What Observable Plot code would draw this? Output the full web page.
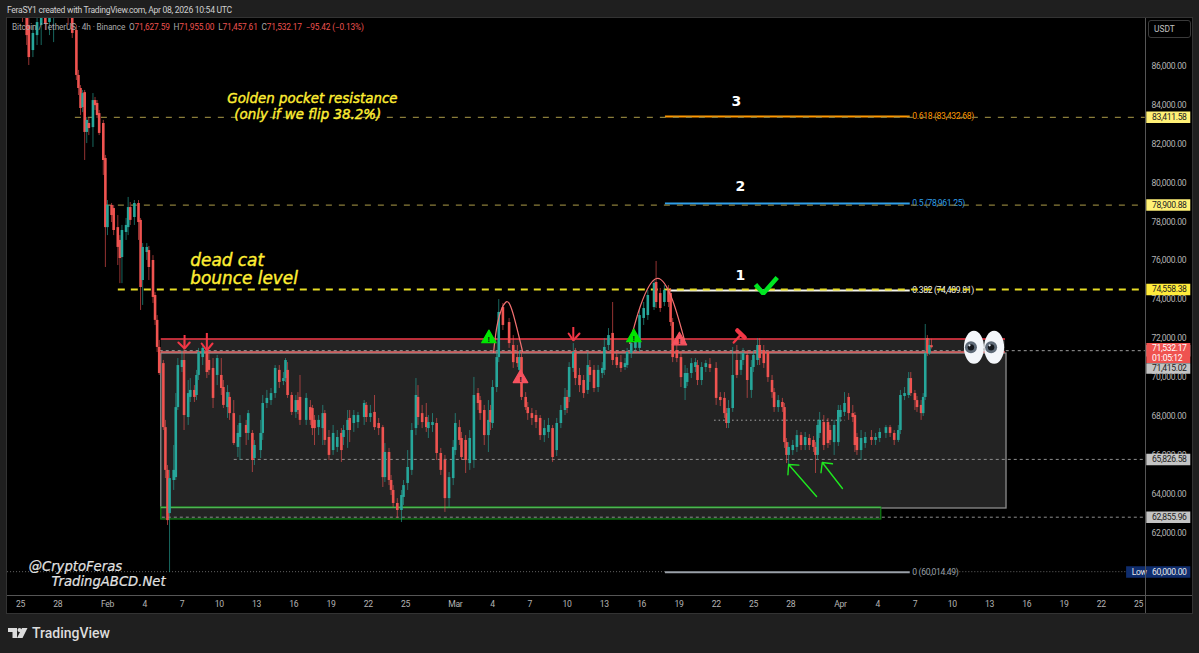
<!DOCTYPE html>
<html><head><meta charset="utf-8">
<script src="https://cdn.jsdelivr.net/npm/d3@7"></script>
<script src="https://cdn.jsdelivr.net/npm/@observablehq/plot@0.6"></script>
<style>
html,body{margin:0;padding:0;background:#1f1f1f;width:1199px;height:653px;overflow:hidden}
#pane{position:absolute;left:7px;top:18px;width:1185px;height:595px;background:#000;box-shadow:0 0 0 1px #333}
#vsep{position:absolute;left:1145px;top:18px;width:1px;height:595px;background:#555}
#hsep{position:absolute;left:7px;top:595px;width:1185px;height:1px;background:#555}
#chart{position:absolute;left:0;top:0}
#chart [font-size="8.6"],#chart [font-size="8.6"] text{letter-spacing:-.35px}
.t{position:absolute;white-space:nowrap;font-family:Roboto,sans-serif}
#head{left:7px;top:4px;font-size:8.6px;letter-spacing:-.3px;color:#d0d0d0;line-height:12px}
#leg{left:12px;top:22px;font-size:8.3px;letter-spacing:-.15px;color:#a8a8a8;line-height:11px}
#leg b{font-weight:400;color:#ef5350}
#usdt{left:1148px;top:20px;width:41px;height:16px;border:1px solid #3a3a3a;border-radius:3px;font-size:8.4px;color:#c0c0c0;line-height:16px;text-indent:5px}
#brand{left:32px;top:624px;font-size:14px;font-weight:500;color:#dcdcdc;line-height:18px}
#logo{position:absolute;left:8px;top:628px}
</style></head><body>
<div id="pane"></div>
<div id="chartwrap"></div>
<div id="vsep"></div><div id="hsep"></div>
<div class="t" id="head">FeraSY1 created with TradingView.com, Apr 08, 2026 10:54 UTC</div>
<div class="t" id="leg">Bitcoin / TetherUS · 4h · Binance &nbsp;O<b>71,627.59</b> &nbsp;H<b>71,955.00</b> &nbsp;L<b>71,457.61</b> &nbsp;C<b>71,532.17 &nbsp;−95.42 (−0.13%)</b></div>
<div class="t" id="usdt">USDT</div>
<svg id="logo" width="20" height="11" viewBox="0 0 20 11"><path fill="#dcdcdc" d="M0 0H9V10H4.5V4H0ZM14 0H19.5L14.5 10H9ZM11.5 0a2 2 0 1 1 0 4a2 2 0 1 1 0-4Z"/></svg>
<div class="t" id="brand">TradingView</div>
<script>
// Candles: hours since 25 Jan 00:00 UTC; prices in thousands of USDT.
const times=[4,12,16,24,32,40,48,56,64,72,80,92,100,108,112,116,120,124,128,132,140,144,148,152,160,164,168,176,180,188,192,196,204,208,212,220,228,232,236,244,248,256,260,264,268,276,280,284,288,296,300,304,312,316,324,328,336,340,344,352,360,364,372,380,388,392,400,404,412,420,424,436,440,448,452,464,468,476,484,492,500,508,512,516,524,532,536,540,552,560,564,568,576,584,588,596,604,612,620,624,632,636,644,652,664,668,676,684,692,700,704,712,716,720,728,736,740,748,756,764,768,776,784,788,796,804,812,820,828,836,840,848,852,860,868,876,884,888,896,904,908,912,920,924,932,944,952,960,964,968,976,980,988,996,1004,1012,1020,1028,1036,1044,1052,1056,1060,1068,1072,1080,1088,1096,1100,1108,1116,1124,1128,1136,1144,1152,1160,1168,1172,1180,1188,1196,1204,1212,1224,1228,1236,1244,1252,1256,1260,1268,1276,1284,1288,1296,1304,1308,1316,1324,1332,1344,1352,1360,1364,1368,1376,1384,1392,1396,1404,1412,1416,1424,1428,1436,1444,1452,1456,1464,1472,1476,1480,1484,1492,1500,1508,1516,1524,1532,1536,1540,1544,1552,1560,1564,1572,1580,1584,1592,1600,1608,1612,1616,1624,1632,1644,1652,1660,1672,1680,1688,1696,1700,1708,1716,1720,1728,1732,1740,1744,1748,1752,1756,1760];
const opens=[89.37,88.60,88.09,86.80,87.57,88.09,88.76,88.24,88.45,89.22,88.96,89.37,88.86,87.83,85.52,84.85,83.87,84.64,82.59,83.05,82.84,84.23,84.08,83.56,83.05,81.25,77.70,78.84,78.68,77.70,77.04,76.16,77.45,77.70,78.73,78.22,78.94,78.07,74.98,76.42,76.52,76.01,74.21,72.93,71.54,70.71,67.42,65.22,63.00,64.70,64.85,68.45,70.51,70.87,67.94,68.97,69.33,69.07,70.10,71.02,71.38,70.87,70.46,70.10,70.10,69.48,68.45,68.97,68.14,66.40,66.91,67.53,67.12,67.12,65.83,66.24,67.12,68.66,68.81,69.17,70.36,69.79,69.94,70.36,69.07,68.20,68.81,68.97,67.79,68.45,68.40,67.79,67.42,67.37,68.14,66.91,66.24,66.40,67.12,66.91,67.27,67.89,67.63,67.68,67.94,68.56,67.94,68.20,67.63,67.42,64.85,66.14,64.70,64.19,63.52,63.16,63.83,64.55,65.22,67.37,68.97,68.14,67.94,67.37,67.53,67.63,66.09,65.73,63.77,64.80,66.24,67.42,66.86,66.76,65.57,65.73,69.17,68.81,68.30,67.01,68.30,67.63,69.48,71.02,73.59,72.82,71.64,71.02,70.36,71.02,68.97,68.45,68.14,68.04,67.89,67.01,67.17,67.37,66.24,67.63,68.30,68.97,68.97,70.46,71.23,70.10,69.84,69.33,70.51,70.36,69.48,70.20,70.36,71.64,72.26,71.02,70.76,70.51,70.61,71.23,71.49,71.49,73.03,73.18,73.59,74.88,74.31,73.85,74.47,74.31,72.82,71.38,71.02,69.43,69.74,70.20,70.51,70.61,69.84,70.51,70.66,70.46,68.97,68.92,68.14,67.63,68.40,70.87,70.36,70.87,71.13,69.33,70.51,70.87,71.64,71.38,71.28,69.84,69.22,68.45,68.71,68.45,66.65,65.99,66.24,66.40,67.01,66.50,66.86,66.76,66.40,65.99,67.12,67.68,67.68,67.27,66.65,66.65,67.94,68.20,68.97,68.14,68.04,66.91,66.24,66.60,66.91,66.76,66.86,67.12,67.42,67.12,66.76,67.27,69.02,69.07,69.94,69.17,68.81,68.56,68.14,68.97,72.00,71.23,71.63];
const closes=[88.60,87.57,86.44,87.68,88.24,88.60,88.14,88.96,89.12,88.76,89.37,88.65,87.68,85.52,84.85,83.82,84.59,82.59,83.21,82.79,84.23,83.97,83.46,82.54,81.15,77.70,78.84,78.32,77.55,76.68,76.11,77.55,77.81,78.73,78.07,78.94,77.96,74.62,76.68,76.68,75.65,74.11,72.93,71.54,70.20,67.42,65.22,62.64,64.80,65.22,68.45,70.61,70.87,68.04,69.17,69.33,68.97,70.10,71.28,71.49,70.25,70.36,68.92,70.97,69.43,68.56,69.22,68.14,66.60,67.12,67.63,67.12,68.14,65.73,66.50,67.12,68.66,68.92,69.17,70.46,69.74,69.94,70.87,69.07,68.20,68.81,68.30,67.79,68.92,67.79,67.37,67.37,67.79,68.14,66.76,65.99,67.12,66.91,66.24,67.27,67.79,67.27,68.04,68.04,68.66,67.94,68.14,67.42,67.37,64.85,66.14,64.70,64.19,63.52,63.16,63.93,64.44,65.37,67.27,69.07,67.94,67.68,67.42,67.68,67.68,66.09,65.22,63.77,64.85,66.40,67.63,66.76,65.88,65.73,66.86,69.07,68.66,68.14,67.01,67.79,67.68,69.48,71.02,73.34,72.67,71.74,70.76,70.71,71.02,68.97,68.45,68.14,67.89,67.68,67.01,67.37,67.53,65.88,67.63,68.30,68.97,68.40,70.51,71.28,69.94,69.58,69.17,70.61,70.10,69.43,70.36,70.46,71.54,72.15,70.87,70.61,70.46,70.71,71.28,71.74,71.90,73.18,73.54,74.21,74.83,73.85,73.54,74.47,73.85,72.82,71.02,70.97,69.99,70.20,70.20,70.71,70.76,69.84,70.51,70.71,70.46,68.92,68.81,68.14,67.63,68.40,70.10,70.10,70.87,71.23,69.84,70.51,71.13,71.64,70.97,70.71,69.99,69.22,68.45,68.81,68.45,66.65,65.99,66.40,66.50,67.01,66.50,66.91,66.50,66.40,65.99,67.53,67.79,66.50,66.60,66.76,67.53,68.30,68.30,68.66,68.14,67.94,66.50,66.24,66.86,66.91,66.76,66.91,67.17,67.42,67.12,66.76,67.27,69.07,69.17,69.94,69.17,68.81,68.45,68.14,68.97,71.23,71.23,71.64,71.53];
const highs=[89.63,89.12,88.45,88.09,88.60,88.96,89.12,89.27,89.37,89.37,89.63,89.53,89.12,88.09,85.78,85.00,84.75,84.75,83.36,83.31,84.59,84.39,84.23,83.72,83.21,81.41,79.09,78.94,78.84,78.32,77.29,77.81,78.17,79.25,78.99,79.09,79.09,78.17,76.88,76.88,76.73,76.26,74.36,73.18,71.90,70.87,67.79,65.47,65.22,66.50,69.17,70.97,71.38,71.90,69.84,69.94,69.58,70.36,71.49,71.64,72.26,71.28,70.97,71.13,70.97,69.84,69.58,69.22,68.81,67.53,68.04,67.79,68.30,67.27,66.76,67.79,69.07,69.33,69.43,70.61,70.61,70.25,70.97,70.76,69.22,69.07,69.22,70.10,69.17,68.81,68.56,68.04,68.04,68.56,68.30,67.27,67.53,67.27,67.37,67.53,68.30,68.30,68.30,68.20,68.81,68.71,68.56,69.07,67.89,67.53,66.60,66.35,64.96,64.44,63.77,64.19,64.70,66.24,67.63,69.94,69.58,68.56,68.66,68.04,68.14,67.89,66.35,65.99,65.11,66.76,68.14,67.79,67.17,67.01,67.27,70.00,69.43,69.02,68.56,68.81,68.56,69.84,71.38,74.00,73.80,73.03,72.15,71.64,71.38,71.28,69.22,68.71,68.40,68.30,68.04,67.79,67.89,67.53,67.89,68.56,69.43,69.33,70.76,71.74,71.49,70.46,70.10,71.28,70.87,70.61,70.61,70.76,72.00,72.51,73.85,71.38,71.13,70.97,71.49,72.00,72.15,73.44,73.85,74.47,74.98,75.96,74.57,74.72,74.72,74.57,73.03,71.64,71.28,70.61,70.46,70.97,70.97,70.87,70.76,70.87,70.97,70.76,69.22,69.22,68.40,68.81,71.54,71.64,71.28,71.49,71.38,70.87,71.38,72.00,72.00,71.64,71.38,70.10,69.43,69.07,68.92,68.66,66.86,66.65,66.76,67.27,67.17,67.17,67.06,66.96,66.65,67.79,68.20,68.04,67.89,67.53,67.79,68.56,68.56,69.22,69.17,68.56,68.20,67.12,67.27,67.17,67.27,67.12,67.37,67.53,67.53,67.27,67.53,69.33,69.48,70.25,70.25,69.33,69.02,68.81,69.17,72.72,72.15,71.95,71.96];
const lows=[88.24,87.06,86.03,86.44,87.06,87.06,87.83,87.57,87.21,88.45,88.60,88.09,87.42,85.26,84.49,83.46,83.61,81.15,82.02,82.43,81.82,83.72,83.31,82.43,80.38,75.65,77.29,77.96,77.29,75.75,74.82,74.82,77.04,77.29,77.81,77.81,77.04,73.44,73.70,76.01,74.98,73.80,72.67,71.28,70.10,67.27,64.80,62.39,59.97,64.19,64.70,68.30,70.25,67.27,67.53,68.71,68.71,68.81,69.84,70.61,69.94,70.10,68.40,69.58,69.07,68.40,67.89,67.79,66.50,65.88,65.73,66.50,66.76,65.11,65.47,65.83,66.76,68.40,68.56,68.92,69.43,69.58,69.74,68.92,68.04,67.89,68.09,67.53,67.53,67.53,67.01,66.50,67.01,66.50,66.50,65.73,65.99,66.14,65.63,66.50,66.35,66.65,67.17,67.37,67.53,67.68,67.68,67.27,67.01,64.34,64.60,64.44,63.93,63.31,62.75,62.54,63.42,64.19,64.96,67.01,67.53,67.37,67.17,66.86,67.17,65.73,64.96,63.06,63.31,64.44,65.99,66.50,65.73,65.06,65.22,65.32,68.30,67.79,66.50,66.14,67.27,67.37,69.22,70.76,72.41,71.49,70.46,70.51,70.10,68.81,68.30,67.79,67.53,67.37,66.76,66.65,66.86,65.63,65.93,67.37,68.04,68.14,68.71,70.25,69.58,69.22,68.92,69.12,69.74,69.22,69.22,69.94,70.10,71.38,70.61,70.46,70.25,70.36,70.46,70.97,71.28,71.28,72.67,72.93,73.44,73.54,73.34,73.64,73.59,72.62,70.76,70.76,69.48,68.81,69.53,69.94,70.25,69.58,69.58,70.25,70.25,68.56,68.50,67.89,67.37,67.37,68.20,69.94,70.10,70.61,68.92,68.92,70.25,70.61,70.61,70.46,69.74,68.92,68.20,68.20,68.20,66.35,65.57,65.47,65.99,66.14,66.24,66.24,66.24,66.14,65.06,65.73,66.86,66.24,66.35,66.50,65.99,66.45,67.68,67.99,67.79,67.68,66.14,65.99,65.73,66.35,66.50,66.50,66.65,66.86,66.91,66.50,66.65,67.06,68.81,68.92,69.02,68.30,68.20,67.79,67.99,68.81,71.07,71.13,71.46];

// Axis labels
const tickHours=[0,72,168,240,312,384,456,528,600,672,744,840,912,984,1056,1128,1200,1272,1344,1416,1488,1584,1656,1728,1800,1872,1944,2016,2088,2160];
const tickLabels=["25","28","Feb","4","7","10","13","16","19","22","25","Mar","4","7","10","13","16","19","22","25","28","Apr","4","7","10","13","16","19","22","25"];
const priceTicks=[62000,64000,66000,68000,70000,72000,74000,76000,78000,80000,82000,84000,86000];

// Horizontal levels
const levelPrices=[83411.58,78900.88,74558.38,71415.02,65826.58,62855.96];
const levelStarts=[106,164,189,270,413,274];
const levelColors=["#8a7d3a","#8a7d3a","#e6dc26","#9c9c9c","#8f8f8f","#8f8f8f"];
const levelWidths=[1.3,1.3,2,1,1,1];
const levelDash=["6,7","6,7","7,6","3,3","3,3","3,3"];
const tagFills=["#fff176","#fff176","#ffeb3b","#c4c4c4","#c4c4c4","#c4c4c4"];

// Fibonacci retracement
const fibNames=["0.618 (83,432.68)","0.5 (78,961.25)","0.382 (74,489.81)","0 (60,014.49)"];
const fibPrices=[83432.68,78961.25,74489.81,60014.49];
const fibColors=["#ff9800","#2f9ee8","#f5f5ea","#9aa0a8"];
const fibStarts=[1246,1246,1256,1246];
const fibEnd=1719;

// Zones
const zoneStart=272, zoneEnd=1905, greenEnd=1663;
const redZone=[71974,71306], grayZone=[71228,63262], greenZone=[63313,62697];

// Hand-drawn annotations
const arcHours=[[914,922,937,951,970],[1177,1198,1229,1260,1285]];
const arcPrices=[[71280,72822,73850,73336,71331],[71743,73696,75084,73953,71692]];
const checkHours=[1420,1435,1462], checkPrices=[74775,74313,75135];
const redShaftHours=[317,360,1068], redShaftTops=[72154,72257,72565], redShaftTips=[71486,71383,71897];
const redWingHours=[[305,317,327],[350,360,371],[1059,1068,1080]];
const redWingPrices=[[71794,71486,71794],[71743,71383,71743],[72257,71897,72257]];
const greenArrows=[[1538,63880,1484,65525],[1588,64290,1549,65625]];
const warnHours=[905,1185,966,1273], warnPrices=[72000,72050,69950,71890];
const warnColors=["#00e600","#00e600","#f7525f","#f7525f"];
const hammerHandle=[[1378,1391],[71794,72180]], hammerHead=[[1385,1399],[72411,72051]];
const eyeHours=[1843,1882], eyePrice=71520;

const candles=times.map((t,i)=>({t,o:opens[i]*1000,c:closes[i]*1000,h:highs[i]*1000,l:lows[i]*1000}));
const levels=levelPrices.map((p,i)=>({p,s:levelStarts[i],color:levelColors[i],w:levelWidths[i],dash:levelDash[i],tag:tagFills[i]}));
const fibs=fibPrices.map((p,i)=>({p,name:fibNames[i],color:fibColors[i],s:fibStarts[i]}));
const UP="#26a69a",DOWN="#ef5350";
const F="Roboto, sans-serif", EM="'DejaVu Sans', sans-serif";
const tagX1=2176,tagX2=2261,tagText=2186;
const rightEdge=2173;

const eyes=(index,{x,y})=>{
  const g=d3.create("svg:g");
  eyeHours.forEach(h=>{
    const cx=x(h),cy=y(eyePrice);
    g.append("ellipse").attr("cx",cx).attr("cy",cy).attr("rx",10).attr("ry",16.5).attr("fill","#f3f6fa");
    g.append("circle").attr("cx",cx-3).attr("cy",cy).attr("r",6).attr("fill","#5f6b78");
    g.append("circle").attr("cx",cx-3).attr("cy",cy).attr("r",3.2).attr("fill","#14171c");
    g.append("circle").attr("cx",cx-4.5).attr("cy",cy-2).attr("r",1.1).attr("fill","#e8eef5");
  });
  return g.node();
};

const fig=Plot.plot({
  width:1199,height:653,marginLeft:7,marginRight:54,marginTop:18,marginBottom:58,
  style:{background:"transparent",overflow:"visible"},
  x:{type:"linear",domain:[-25.1,2173.5]},
  y:{type:"linear",domain:[58790,88448]},
  marks:[
    Plot.axisY({anchor:"right",ticks:priceTicks,tickFormat:d=>d3.format(",.2f")(d),tickSize:0,tickPadding:6,label:null,fontSize:8.6,fontFamily:F,color:"#b4b4b4"}),
    Plot.axisX({ticks:tickHours,tickFormat:d=>tickLabels[tickHours.indexOf(d)],tickSize:0,tickPadding:5,label:null,fontSize:8.6,fontFamily:F,color:"#b4b4b4"}),
    // Zones
    Plot.rect([{a:redZone[0],b:redZone[1]}],{x1:()=>zoneStart,x2:()=>zoneEnd-2,y1:"a",y2:"b",fill:"#232323"}),
    Plot.rect([{a:grayZone[0],b:grayZone[1]}],{x1:()=>zoneStart,x2:()=>zoneEnd,y1:"a",y2:"b",fill:"#232323",stroke:"#8c8c8c",strokeWidth:1.3}),
    Plot.rect([{a:greenZone[0],b:greenZone[1]}],{x1:()=>zoneStart,x2:()=>greenEnd,y1:"a",y2:"b",fill:"#232323",stroke:"#0d7a12",strokeWidth:1.3}),
    Plot.ruleY([greenZone[0]],{x1:zoneStart,x2:greenEnd,stroke:"#4fb354",strokeWidth:1.4}),
    Plot.ruleY([redZone[0]],{x1:zoneStart,x2:zoneEnd-2,stroke:"#f23645",strokeWidth:1.3}),
    Plot.ruleY([redZone[1]],{x1:zoneStart,x2:zoneEnd-2,stroke:"#f06a6a",strokeWidth:1.3}),
    // Fib lines and labels
    ...fibs.map(f=>Plot.ruleY([f.p],{x1:f.s,x2:fibEnd,stroke:f.color,strokeWidth:2,dy:0.5})),
    Plot.text(fibs,{x:()=>1723,y:"p",text:"name",fill:"color",textAnchor:"start",fontSize:8.6,fontFamily:F,dy:0.5}),
    // Levels
    Plot.ruleY([60014.49],{x1:-25,x2:1246,stroke:"#666",strokeWidth:1,strokeDasharray:"1,2"}),
    Plot.ruleY([60014.49],{x1:1780,x2:rightEdge,stroke:"#666",strokeWidth:1,strokeDasharray:"1,2"}),
    Plot.ruleY([67800],{x1:1341,x2:1594,stroke:"#a8a8a8",strokeWidth:1,strokeDasharray:"1.5,3"}),
    ...levels.map(l=>Plot.ruleY([l.p],{x1:l.s,x2:rightEdge,stroke:l.color,strokeWidth:l.w,strokeDasharray:l.dash,dy:0.8})),
    // Candles
    Plot.ruleX(candles,{x:"t",y1:"l",y2:"h",stroke:d=>d.c>=d.o?UP:DOWN,strokeWidth:1,strokeOpacity:.62,clip:true}),
    Plot.ruleX(candles,{x:"t",y1:"o",y2:"c",stroke:d=>d.c>=d.o?UP:DOWN,strokeWidth:2.6,clip:true}),
    // Arcs
    ...arcHours.map((h,k)=>Plot.line(h.map((v,i)=>({h:v,p:arcPrices[k][i]})),{x:"h",y:"p",curve:"natural",stroke:"#f27070",strokeWidth:1.2})),
    // Check and arrows
    Plot.line(checkHours.map((h,i)=>({h,p:checkPrices[i]})),{x:"h",y:"p",stroke:"#00e622",strokeWidth:4.5,strokeLinecap:"butt",strokeLinejoin:"miter"}),
    ...redShaftHours.map((h,i)=>Plot.ruleX([h],{y1:redShaftTops[i],y2:redShaftTips[i],stroke:"#f23645",strokeWidth:2})),
    ...redWingHours.map((h,k)=>Plot.line(h.map((v,i)=>({h:v,p:redWingPrices[k][i]})),{x:"h",y:"p",stroke:"#f23645",strokeWidth:2,strokeLinejoin:"miter"})),
    Plot.arrow(greenArrows,{x1:d=>d[0],y1:d=>d[1],x2:d=>d[2],y2:d=>d[3],stroke:"#1fe81f",strokeWidth:1.4,headLength:11,headAngle:90}),
    // Warning triangles
    Plot.dot(warnHours.map((h,i)=>({h,p:warnPrices[i],c:warnColors[i]})),{x:"h",y:"p",symbol:"triangle",r:5.4,fill:"c",stroke:"c",strokeWidth:1.2,strokeLinejoin:"round"}),
    Plot.text(warnHours.map((h,i)=>({h,p:warnPrices[i]})),{x:"h",y:"p",text:()=>"!",fill:"#111",fontWeight:"bold",fontSize:8,fontFamily:F,dy:1}),
    // Gavel
    Plot.line(hammerHandle[0].map((h,i)=>({h,p:hammerHandle[1][i]})),{x:"h",y:"p",stroke:"#f23645",strokeWidth:2.4}),
    Plot.line(hammerHead[0].map((h,i)=>({h,p:hammerHead[1][i]})),{x:"h",y:"p",stroke:"#f23645",strokeWidth:4.5}),
    // Eyes
    eyes,
    // Tags
    ...levels.map(l=>Plot.ruleY([l.p],{x1:tagX1,x2:tagX2,stroke:l.tag,strokeWidth:11.5,dy:0.8})),
    Plot.text(levels,{x:()=>tagText,y:"p",text:d=>d3.format(",.2f")(d.p),fill:"#222",textAnchor:"start",fontSize:8.6,fontFamily:F,dy:0.8}),
    Plot.ruleY([71532.17],{x1:tagX1,x2:tagX2,stroke:"#ef5350",strokeWidth:20,dy:5.5}),
    Plot.ruleY([71415.02],{x1:tagX1,x2:tagX2,stroke:"#c4c4c4",strokeWidth:10.5,dy:18.5}),
    Plot.text([71415.02],{x:()=>tagText,y:d=>d,text:d=>d3.format(",.2f")(d),fill:"#222",textAnchor:"start",fontSize:8.6,fontFamily:F,dy:18.5}),
    Plot.text([71532.17],{x:()=>tagText,y:d=>d,text:d=>d3.format(",.2f")(d),fill:"#fff",textAnchor:"start",fontSize:8.6,fontFamily:F,dy:0.5}),
    Plot.text([71532.17],{x:()=>tagText,y:d=>d,text:()=>"01:05:12",fill:"#fff",textAnchor:"start",fontSize:8.6,fontFamily:F,dy:10.5}),
    Plot.ruleY([60000],{x1:2137,x2:tagX2,stroke:"#0f2d6e",strokeWidth:11.5}),
    Plot.text([60000],{x:()=>2147,y:d=>d,text:()=>"Low",fill:"#e8e8e8",textAnchor:"start",fontSize:8.6,fontFamily:F}),
    Plot.text([60000],{x:()=>tagText,y:d=>d,text:d=>d3.format(",.2f")(d),fill:"#e8e8e8",textAnchor:"start",fontSize:8.6,fontFamily:F}),
    // Text notes
    Plot.text([{h:564,p:84300,t:"Golden pocket resistance"},{h:555,p:83520,t:"(only if we flip 38.2%)"}],{x:"h",y:"p",text:"t",fill:"#ffee33",fontStyle:"italic",fontSize:13.4,fontFamily:EM,stroke:"#ffee33",strokeWidth:.4}),
    Plot.text([{h:328,p:76000,t:"dead cat"},{h:328,p:75070,t:"bounce level"}],{x:"h",y:"p",text:"t",fill:"#ffee33",fontStyle:"italic",fontSize:16.9,fontFamily:EM,textAnchor:"start",stroke:"#ffee33",strokeWidth:.4}),
    Plot.text([{p:60280,t:"@CryptoFeras"}],{x:()=>16,y:"p",text:"t",fill:"#e2e2e2",fontStyle:"italic",fontSize:13.2,fontFamily:EM,textAnchor:"start",stroke:"#e2e2e2",strokeWidth:.2}),
    Plot.text([{p:59500,t:"TradingABCD.Net"}],{x:()=>60,y:"p",text:"t",fill:"#e2e2e2",fontStyle:"italic",fontSize:13.2,fontFamily:EM,textAnchor:"start",stroke:"#e2e2e2",strokeWidth:.2}),
    Plot.text([{h:1391,p:75230,t:"1"},{h:1391,p:79810,t:"2"},{h:1383,p:84180,t:"3"}],{x:"h",y:"p",text:"t",fill:"#fff",fontWeight:"bold",fontSize:14,fontFamily:EM})
  ]
});
fig.id="chart";
document.getElementById("chartwrap").appendChild(fig);
</script>
</body></html>
